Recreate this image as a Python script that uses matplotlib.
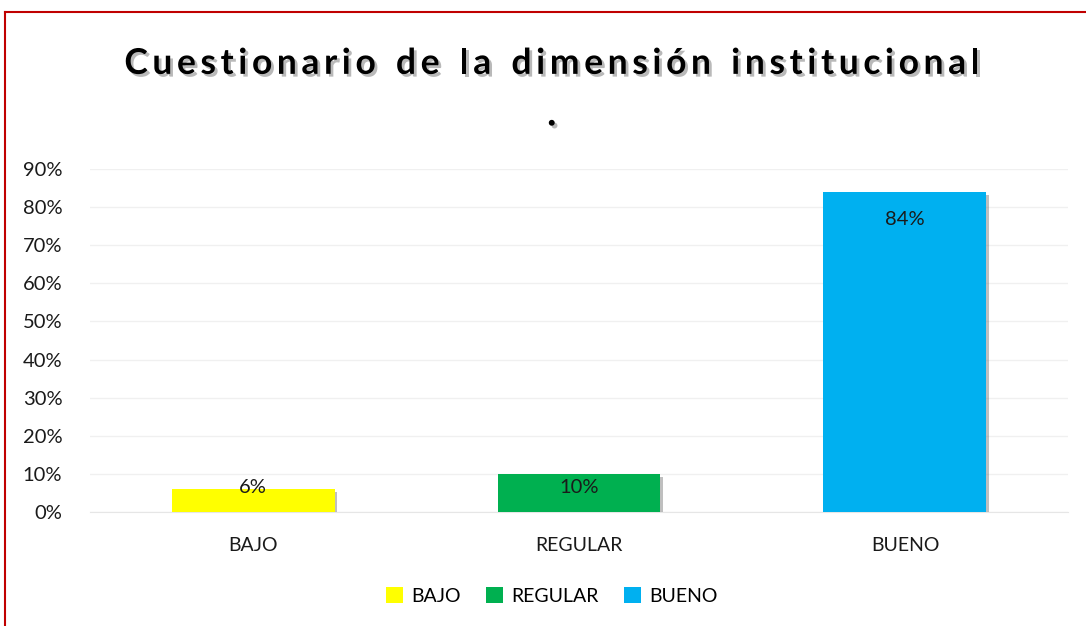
"""Bar chart: Cuestionario de la dimensión institucional."""

import matplotlib

matplotlib.use("Agg")
import matplotlib.pyplot as plt
import matplotlib.patheffects as pe
from matplotlib.lines import Line2D
from matplotlib.patches import Patch
from matplotlib.ticker import FuncFormatter, MultipleLocator

categories = ["BAJO", "REGULAR", "BUENO"]
values = [0.06, 0.10, 0.84]
value_labels = ["6%", "10%", "84%"]
colors = ["#FFFF00", "#00B050", "#00B0F0"]
label_offsets_px = [2, -14, -28]
title = "Cuestionario de la dimensión institucional"

plt.rcParams["font.family"] = ["Lato", "DejaVu Sans"]

fig = plt.figure(figsize=(10.86, 6.26), dpi=100)
ax = fig.add_axes([0.0829, 0.182, 0.9005, 0.548])

shadow = [pe.SimplePatchShadow(offset=(1.5, -2), shadow_rgbFace="#808080", alpha=0.5), pe.Normal()]
x = range(len(categories))
bars = ax.bar(x, values, width=0.5, color=colors, zorder=3)
for bar in bars:
    bar.set_path_effects(shadow)

for bar, lab, off in zip(bars, value_labels, label_offsets_px):
    ax.annotate(
        lab,
        (bar.get_x() + bar.get_width() / 2, bar.get_height()),
        xytext=(0, off),
        textcoords="offset pixels",
        ha="center",
        va="center",
        fontsize=14.5,
        color="#1a1a1a",
        zorder=4,
    )

ax.set_xlim(-0.5, 2.5)
ax.set_ylim(0, 0.9)
ax.yaxis.set_major_locator(MultipleLocator(0.1))
ax.yaxis.set_major_formatter(FuncFormatter(lambda v, _: f"{v * 100:.0f}%"))
ax.set_xticks(list(x))
ax.set_xticklabels(categories)
ax.tick_params(axis="both", length=0, labelsize=14, colors="#1a1a1a")
ax.tick_params(axis="y", labelsize=14.5, pad=20)
ax.tick_params(axis="x", pad=18)
ax.grid(axis="y", color="#f0f0f0", linewidth=1, zorder=0)
for side in ["top", "right", "left"]:
    ax.spines[side].set_visible(False)
ax.spines["bottom"].set_color("#e6e6e6")
ax.spines["bottom"].set_zorder(2)

# title with wide letter spacing, laid out glyph by glyph
title_fx = [pe.withSimplePatchShadow(offset=(2, -2), shadow_rgbFace="#808080", alpha=0.55)]
title_kw = dict(fontsize=25.5, fontweight="bold", color="black", va="center", ha="left",
                path_effects=title_fx)
renderer = fig.canvas.get_renderer()
tracking = 4.6  # extra px between glyphs
widths = []
for ch in title:
    probe = fig.text(0, 0, ch if ch != " " else "n", **title_kw)
    w = probe.get_window_extent(renderer).width
    probe.remove()
    widths.append(w * (0.55 if ch == " " else 1.0))
total = sum(widths) + tracking * (len(title) - 1)
fig_w = fig.get_figwidth() * fig.dpi
cursor = 552 - total / 2
for ch, w in zip(title, widths):
    if ch != " ":
        fig.text(cursor / fig_w, 0.898, ch, **title_kw)
    cursor += w + tracking

fig.text(0.508, 0.818, ".", ha="center", va="center", fontsize=28, fontweight="bold",
         color="black", path_effects=title_fx)

handles = [Patch(facecolor=c, edgecolor="none") for c in colors]
fig.legend(handles, categories, loc="center", bbox_to_anchor=(0.508, 0.048), ncol=3,
           frameon=False, fontsize=14, handlelength=0.9, handleheight=0.9,
           handletextpad=0.4, columnspacing=1.3)

# red frame (top and left edges visible)
fig.add_artist(Line2D([0.0046, 1.0], [0.981, 0.981], color="#C00000", linewidth=1.5))
fig.add_artist(Line2D([0.0046, 0.0046], [0.0, 0.981], color="#C00000", linewidth=1.5))

fig.savefig("out.png", dpi=100)
